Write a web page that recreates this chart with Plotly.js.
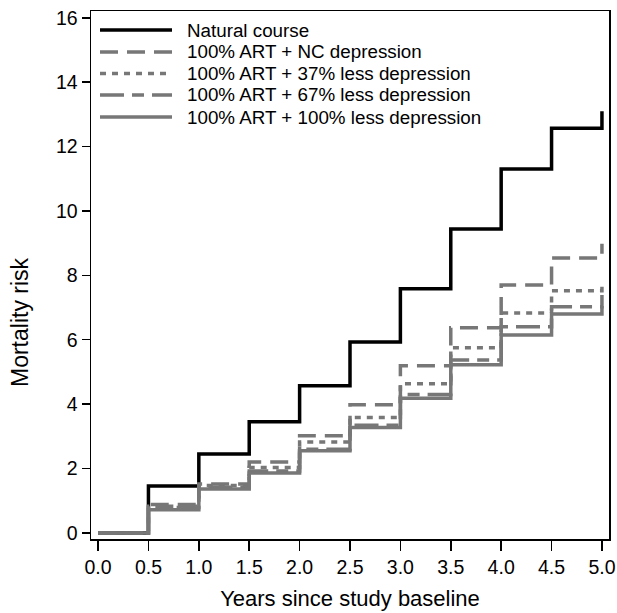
<!DOCTYPE html>
<html>
<head>
<meta charset="utf-8">
<script src="https://cdn.plot.ly/plotly-3.0.1.min.js"></script>
<style>html,body{margin:0;padding:0;background:#fff;}#chart{width:617px;height:613px;}</style>
</head>
<body>
<div id="chart"></div>
<script>
var years = [0, 0.5, 1.0, 1.5, 2.0, 2.5, 3.0, 3.5, 4.0, 4.5, 5.0];
var naturalCourse = [0, 1.46, 2.45, 3.45, 4.57, 5.93, 7.58, 9.44, 11.3, 12.57, 13.1];
var artNC = [0, 0.88, 1.52, 2.2, 3.02, 3.98, 5.19, 6.37, 7.70, 8.54, 8.98];
var art37 = [0, 0.83, 1.47, 2.03, 2.82, 3.58, 4.63, 5.75, 6.83, 7.52, 7.76];
var art67 = [0, 0.79, 1.42, 1.92, 2.6, 3.34, 4.3, 5.37, 6.40, 7.02, 7.39];
var art100 = [0, 0.72, 1.36, 1.86, 2.55, 3.27, 4.18, 5.22, 6.15, 6.80, 7.05];
var seriesNames = ["Natural course", "100% ART + NC depression", "100% ART + 37% less depression", "100% ART + 67% less depression", "100% ART + 100% less depression"];
var xTicks = [0, 0.5, 1.0, 1.5, 2.0, 2.5, 3.0, 3.5, 4.0, 4.5, 5.0];
var xTickText = ["0.0", "0.5", "1.0", "1.5", "2.0", "2.5", "3.0", "3.5", "4.0", "4.5", "5.0"];
var yTicks = [0, 2, 4, 6, 8, 10, 12, 14, 16];

var gray = "#777777";
var FONT = "Liberation Sans, Arial, Helvetica, sans-serif";
var W = 617, H = 613, ML = 91, MR = 8, MT = 11, MB = 74;
var PW = W - ML - MR, PH = H - MT - MB;
function px2x(px) { return (px - ML) / PW; }
function px2y(py) { return (H - MB - py) / PH; }

var colors = ["#000000", gray, gray, gray, gray];
var dashes = ["solid", "18px,9px", "6px,6px", "24px,8px,12px,8px", "solid"];
var seriesY = [naturalCourse, artNC, art37, art67, art100];

var data = seriesY.map(function (y, i) {
  return {x: years, y: y, name: seriesNames[i], type: "scatter", mode: "lines",
          line: {shape: "hv", color: colors[i], width: 3.5, dash: dashes[i]}};
});

// manual legend (to match the compact row spacing of the reference)
var rowY = [30, 52, 73.5, 95, 117];
var shapes = [], annotations = [];
seriesNames.forEach(function (name, i) {
  shapes.push({type: "line", xref: "paper", yref: "paper",
    x0: px2x(100), x1: px2x(172), y0: px2y(rowY[i]), y1: px2y(rowY[i]),
    line: {color: colors[i], width: 3.5, dash: dashes[i]}});
  annotations.push({xref: "paper", yref: "paper", x: px2x(185), y: px2y(rowY[i]),
    xanchor: "left", yanchor: "middle", showarrow: false, text: name,
    font: {size: 18.8, family: FONT, color: "#000"}});
});
annotations.push({xref: "paper", yref: "paper", x: px2x(20), y: px2y(322),
  xanchor: "center", yanchor: "middle", showarrow: false, textangle: -90,
  text: "Mortality risk", font: {size: 23, family: FONT, color: "#000"}});

var layout = {
  width: W, height: H,
  margin: {l: ML, r: MR, t: MT, b: MB, pad: 0},
  paper_bgcolor: "#fff", plot_bgcolor: "#fff",
  font: {family: FONT, color: "#000", size: 19},
  showlegend: false,
  shapes: shapes, annotations: annotations,
  xaxis: {range: [-0.07, 5.07], tickvals: xTicks, ticktext: xTickText, ticks: "outside",
          ticklen: 10, tickwidth: 1.5, tickcolor: "#000", showgrid: false, zeroline: false,
          showline: true, linecolor: "#000", linewidth: 1.5, mirror: true,
          tickfont: {size: 19.5},
          title: {text: "Years since study baseline", font: {size: 22}, standoff: 13}},
  yaxis: {range: [-0.19, 16.21], tickvals: yTicks, ticks: "outside",
          ticklen: 8, tickwidth: 1.5, tickcolor: "#000", showgrid: false, zeroline: false,
          showline: true, linecolor: "#000", linewidth: 1.5, mirror: true,
          tickfont: {size: 19.5}}
};
Plotly.newPlot("chart", data, layout, {staticPlot: true});
</script>
</body>
</html>
